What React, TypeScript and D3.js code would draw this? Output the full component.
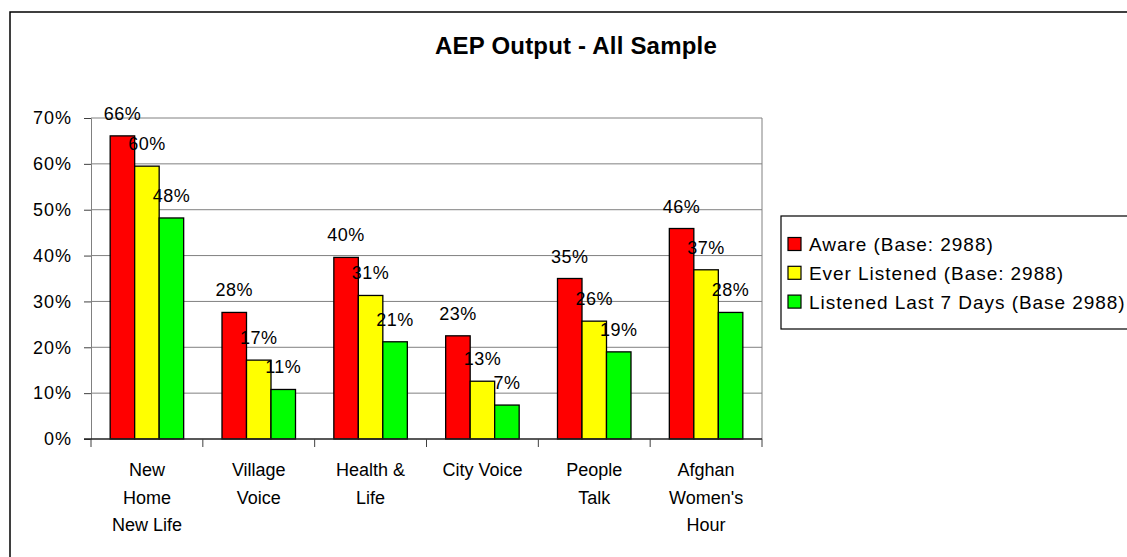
import React, { useRef, useEffect } from 'react';
import * as d3 from 'd3';

const categories = [
  ['New', 'Home', 'New Life'],
  ['Village', 'Voice'],
  ['Health &', 'Life'],
  ['City Voice'],
  ['People', 'Talk'],
  ['Afghan', "Women's", 'Hour'],
];
const seriesNames = ['Aware (Base: 2988)', 'Ever Listened (Base: 2988)', 'Listened Last 7 Days (Base 2988)'];
const seriesColors = ['#ff0000', '#ffff00', '#00ff00'];
const aware = [0.661, 0.276, 0.396, 0.225, 0.35, 0.459];
const everListened = [0.595, 0.172, 0.313, 0.126, 0.257, 0.369];
const listened7 = [0.482, 0.108, 0.212, 0.074, 0.19, 0.276];
const yTicks = [0, 0.1, 0.2, 0.3, 0.4, 0.5, 0.6, 0.7];

const FONT = '"Liberation Sans", Arial, sans-serif';

const App = () => {
  const svgRef = useRef<SVGSVGElement>(null);

  useEffect(() => {
    const svg = d3.select(svgRef.current);
    svg.selectAll('*').remove();

    const plotLeft = 91;
    const plotRight = 762;
    const plotTop = 118;
    const plotBottom = 439;

    // outer chart frame (runs past right and bottom edges)
    svg.append('rect')
      .attr('x', 10).attr('y', 12)
      .attr('width', 1131).attr('height', 560)
      .attr('fill', '#fff').attr('stroke', '#000').attr('stroke-width', 1.5);

    svg.append('text')
      .attr('x', 576).attr('y', 54)
      .attr('text-anchor', 'middle')
      .attr('font-family', FONT).attr('font-weight', 'bold').attr('font-size', 24)
      .attr('letter-spacing', 0.2)
      .text('AEP Output - All Sample');

    const y = d3.scaleLinear().domain([0, 0.7]).range([plotBottom, plotTop]);
    const idx = categories.map((_, i) => String(i));
    const x0 = d3.scaleBand().domain(idx).range([plotLeft, plotRight]).padding(0);
    const groupW = 73.5;
    const x1 = d3.scaleBand().domain(['0', '1', '2']).range([0, groupW]).padding(0);

    // gridlines
    svg.append('g').selectAll('line').data(yTicks.slice(1)).join('line')
      .attr('x1', plotLeft).attr('x2', plotRight)
      .attr('y1', d => y(d)).attr('y2', d => y(d))
      .attr('stroke', '#808080').attr('stroke-width', 1);

    // plot area right border
    svg.append('line')
      .attr('x1', plotRight).attr('x2', plotRight)
      .attr('y1', plotTop).attr('y2', plotBottom)
      .attr('stroke', '#808080');

    // y axis
    const yAxis = svg.append('g')
      .attr('transform', `translate(${plotLeft},0)`)
      .call(d3.axisLeft(y).tickValues(yTicks).tickFormat(d3.format('.0%')).tickSize(7).tickPadding(12));
    yAxis.select('.domain').attr('stroke', '#808080');
    yAxis.selectAll('line').attr('stroke', '#404040');
    yAxis.selectAll('text')
      .attr('font-family', FONT).attr('font-size', 18).attr('fill', '#000')
      .attr('letter-spacing', 1);

    // bars
    const series = [aware, everListened, listened7];
    const groups = svg.append('g').selectAll('g').data(idx).join('g')
      .attr('transform', d => `translate(${(x0(d) as number) + (x0.bandwidth() - groupW) / 2},0)`);

    groups.selectAll('rect')
      .data(d => series.map((s, k) => ({ k, v: s[+d] })))
      .join('rect')
      .attr('x', d => x1(String(d.k)) as number)
      .attr('y', d => y(d.v))
      .attr('width', x1.bandwidth())
      .attr('height', d => plotBottom - y(d.v))
      .attr('fill', d => seriesColors[d.k])
      .attr('stroke', '#000').attr('stroke-width', 1.3);

    groups.selectAll('text')
      .data(d => series.map((s, k) => ({ k, v: s[+d] })))
      .join('text')
      .attr('x', d => (x1(String(d.k)) as number) + x1.bandwidth() / 2)
      .attr('y', d => y(d.v) - 16)
      .attr('text-anchor', 'middle')
      .attr('font-family', FONT).attr('font-size', 18).attr('letter-spacing', 0.5)
      .text(d => d3.format('.0%')(d.v));

    // x axis
    svg.append('line')
      .attr('x1', plotLeft - 7).attr('x2', plotRight)
      .attr('y1', plotBottom).attr('y2', plotBottom)
      .attr('stroke', '#202020').attr('stroke-width', 1.3);
    const bounds = idx.map(d => x0(d) as number).concat([plotRight]);
    svg.append('g').selectAll('line').data(bounds).join('line')
      .attr('x1', d => d).attr('x2', d => d)
      .attr('y1', plotBottom).attr('y2', plotBottom + 8)
      .attr('stroke', '#404040');

    svg.append('g').selectAll('text').data(idx).join('text')
      .attr('x', d => (x0(d) as number) + x0.bandwidth() / 2)
      .attr('y', 476)
      .attr('text-anchor', 'middle')
      .attr('font-family', FONT).attr('font-size', 18)
      .each(function (d) {
        const t = d3.select(this);
        categories[+d].forEach((line, j) => {
          t.append('tspan')
            .attr('x', (x0(d) as number) + x0.bandwidth() / 2)
            .attr('dy', j === 0 ? 0 : 27.5)
            .text(line);
        });
      });

    // legend
    const legend = svg.append('g');
    legend.append('rect')
      .attr('x', 781).attr('y', 216)
      .attr('width', 400).attr('height', 113)
      .attr('fill', '#fff').attr('stroke', '#000').attr('stroke-width', 1.2);
    const items = legend.selectAll('g').data(seriesNames).join('g')
      .attr('transform', (_, i) => `translate(788,${244 + i * 28.8})`);
    items.append('rect')
      .attr('x', 0).attr('y', -6.5)
      .attr('width', 13).attr('height', 13)
      .attr('fill', (_, i) => seriesColors[i])
      .attr('stroke', '#000').attr('stroke-width', 1.2);
    items.append('text')
      .attr('x', 21).attr('y', 7)
      .attr('font-family', FONT).attr('font-size', 19).attr('letter-spacing', 0.95)
      .text(d => d);
  }, []);

  return (
    <svg ref={svgRef} width={1127} height={557}
      style={{ position: 'absolute', left: 0, top: 0, background: '#fff' }} />
  );
};

export default App;
